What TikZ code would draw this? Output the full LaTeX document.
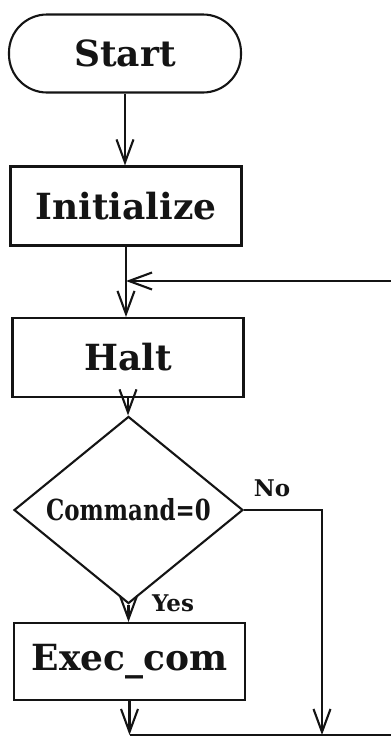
\documentclass[tikz,border=0pt]{standalone}
\usepackage{fontspec}
\setmainfont{DejaVu Serif}
\usetikzlibrary{arrows.meta,shapes.geometric}
\definecolor{ink}{HTML}{141414}

\begin{document}
\begin{tikzpicture}[x=1pt,y=-1pt,
    line width=2.1pt, draw=ink, text=ink,
    every node/.style={inner sep=0pt, font=\bfseries},
    bigtext/.style={font=\bfseries\fontsize{36}{40}\selectfont},
    termbox/.style={draw, bigtext, rounded corners=38pt,
      minimum width=232pt, minimum height=78pt},
    procbox/.style={draw, bigtext, minimum width=231pt, minimum height=79pt},
    decbox/.style={draw, diamond, minimum width=229pt, minimum height=150pt},
    tag/.style={font=\bfseries\fontsize{23}{25}\selectfont},
    arr/.style={-{Straight Barb[length=23pt,width=17pt,line width=2.1pt]}}]

  \useasboundingbox (0,0) rectangle (391,737);
  \clip (0,0) rectangle (391,737);
  \fill[white] (0,0) rectangle (391,737);

  % blocks
  \node[termbox] (start) at (125,53.5) {Start};
  \node[procbox] (init)  at (126,206) {Initialize};
  \node[procbox] (halt)  at (128,357.5) {Halt};
  \node[decbox]  (dec)   at (128.5,510)
    {\scalebox{0.79}[1]{\fontsize{29}{31}\selectfont Command=0}};
  \node[procbox, minimum height=77pt] (exec) at (129.5,661.5) {Exec\_com};

  % branch labels
  \node[tag] (nolbl)  at (272,488) {No};
  \node[tag] (yeslbl) at (173,603) {Yes};

  % junction points of the return path
  \coordinate (loopin)  at (init.south |- 0,281);
  \coordinate (rtop)    at (394,281);
  \coordinate (rbot)    at (394,735);
  \coordinate (nodown)  at (322,735);
  \coordinate (exdown)  at (exec.south |- 0,735);

  % main flow
  \draw[arr] (start.south) -- (start.south |- init.north);
  \draw[arr] (init.south) -- (init.south |- halt.north);
  \draw[arr] (halt.south) -- (halt.south |- dec.north);
  \draw[arr] (dec.south) -- (dec.south |- exec.north);
  \draw[arr] (exec.south) -- (exdown);

  % "No" branch
  \draw[arr] (dec.east) -| (nodown);

  % return to the top of the loop
  \draw (exdown) -- (rbot) -- (rtop);
  \draw[arr] (rtop) -- (loopin);
\end{tikzpicture}
\end{document}
